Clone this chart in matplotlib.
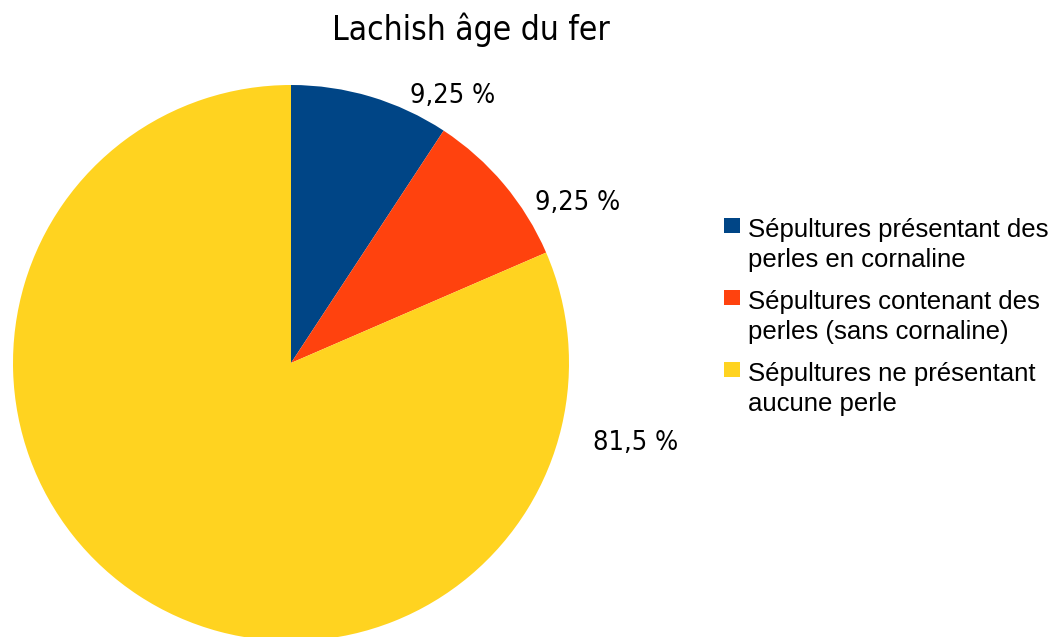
import matplotlib
matplotlib.use("Agg")
import matplotlib.pyplot as plt
from matplotlib.patches import Rectangle

# data
categories = [
    "Sépultures présentant des\nperles en cornaline",
    "Sépultures contenant des\nperles (sans cornaline)",
    "Sépultures ne présentant\naucune perle",
]
values = [9.25, 9.25, 81.5]
value_labels = ["9,25 %", "9,25 %", "81,5 %"]
colours = ["#004586", "#ff420e", "#ffd320"]
title = "Lachish âge du fer"

# label anchors (left, baseline) in pixels from the top-left corner
label_pos = [(410, 103), (535, 210), (593, 450)]

W, H = 1055, 637
fig = plt.figure(figsize=(W / 100, H / 100), dpi=100)
ax = fig.add_axes([0, 0, 1, 1])

wedges, _ = ax.pie(values, colors=colours, startangle=90, counterclock=False,
                   center=(291, H - 363), radius=278, frame=True)
ax.set_xlim(0, W)
ax.set_ylim(0, H)
ax.set_aspect("equal")
ax.axis("off")

for txt, (x, y) in zip(value_labels, label_pos):
    ax.text(x, H - y, txt, ha="left", va="baseline", fontsize=19.5,
            family="DejaVu Sans", fontstretch="condensed")

ax.text(470.5, H - 40, title, ha="center", va="baseline", fontsize=24,
        family="DejaVu Sans", fontstretch="condensed")

# legend: square marker aligned with the first line of each entry
for i, (cat, col) in enumerate(zip(categories, colours)):
    base = 237 + 72 * i
    ax.add_patch(Rectangle((724, H - base + 4), 16, 15, color=col, lw=0))
    for j, line in enumerate(cat.split("\n")):
        ax.text(748, H - base - 30 * j, line, ha="left", va="baseline",
                fontsize=18.5, family="Liberation Sans")

fig.savefig("out.png", dpi=100)
